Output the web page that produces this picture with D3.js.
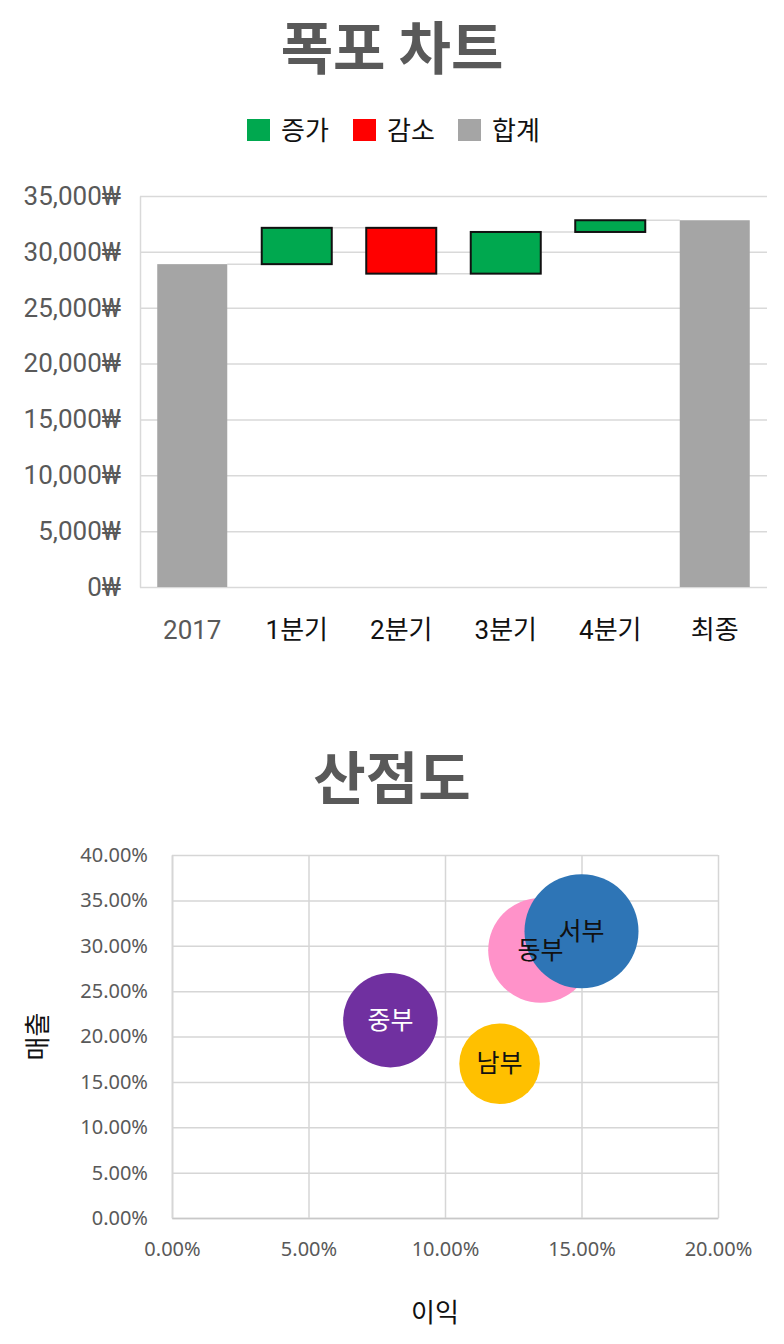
<!DOCTYPE html>
<html>
<head>
<meta charset="utf-8">
<script src="https://cdn.jsdelivr.net/npm/d3@7"></script>
<style>
    body { margin: 0; background: #fff; }
    svg { display: block; }
    .axis text { fill: #595959; }
</style>
</head>
<body>
<div id="chart"></div>
<script>
// --- waterfall data
const wfCategories = ['2017', '1분기', '2분기', '3분기', '4분기', '최종'];
const wfTypes = ['total', 'increase', 'decrease', 'increase', 'increase', 'total'];
const wfValues = [28900, 3250, -4100, 3730, 1050, 32830];
const wfTicks = [0, 5000, 10000, 15000, 20000, 25000, 30000, 35000];
const legendLabels = ['증가', '감소', '합계'];

// --- scatter data
const regions = ['중부', '남부', '동부', '서부'];
const profit = [0.08, 0.12, 0.135, 0.15];
const sales = [0.218, 0.17, 0.295, 0.316];
const bubbleSize = [22, 16, 27, 32];
const xTicks = [0, 0.05, 0.10, 0.15, 0.20];
const yTicks = [0, 0.05, 0.10, 0.15, 0.20, 0.25, 0.30, 0.35, 0.40];

const COLORS = { increase: '#00A84F', decrease: '#FF0000', total: '#A5A5A5' };
const regionColors = ['#7030A0', '#FFC000', '#FF92C9', '#2E75B6'];
const regionText = ['#ffffff', '#111111', '#111111', '#111111'];
const KR = "'Noto Sans CJK KR', 'Noto Sans', sans-serif";

const W = 784, H = 1344;
const svg = d3.select('#chart').append('svg').attr('width', W).attr('height', H);

// ================= waterfall
const wf = { left: 140, right: 767, top: 196, bottom: 587 };

svg.append('text')
    .attr('x', W / 2).attr('y', 69)
    .attr('text-anchor', 'middle')
    .attr('font-family', KR).attr('font-weight', 700).attr('font-size', 57)
    .attr('fill', '#595959')
    .text('폭포 차트');

// legend
const legendX = [247, 353, 458];
const legendKeys = ['increase', 'decrease', 'total'];
const g_legend = svg.append('g').attr('class', 'legend');
legendLabels.forEach((label, i) => {
    g_legend.append('rect')
        .attr('x', legendX[i]).attr('y', 119).attr('width', 23).attr('height', 22)
        .attr('fill', COLORS[legendKeys[i]]);
    g_legend.append('text')
        .attr('x', legendX[i] + 34).attr('y', 140)
        .attr('font-family', KR).attr('font-size', 26).attr('fill', '#111')
        .text(label);
});

const x = d3.scaleBand().domain(wfCategories).range([wf.left, wf.right])
    .paddingInner(0.33).paddingOuter(0.165);
const y = d3.scaleLinear().domain([0, 35000]).range([wf.bottom, wf.top]);

const yAxis = d3.axisLeft(y).tickValues(wfTicks).tickSizeInner(-(wf.right - wf.left))
    .tickSizeOuter(0).tickPadding(19).tickFormat(d => d3.format(',')(d) + '₩');
const g_yaxis = svg.append('g').attr('class', 'axis')
    .attr('transform', `translate(${wf.left},0)`)
    .call(yAxis);
g_yaxis.select('.domain').attr('stroke', '#d9d9d9').attr('stroke-width', 1.5);
g_yaxis.selectAll('.tick line').attr('stroke', '#d9d9d9').attr('stroke-width', 1.5);
g_yaxis.selectAll('.tick text').attr('font-family', 'Roboto, sans-serif').attr('font-size', 26);

// running totals
let running = 0;
const steps = wfValues.map((v, i) => {
    let start, end;
    if (wfTypes[i] === 'total') { start = 0; end = v; running = v; }
    else { start = running; end = running + v; running = end; }
    return { cat: wfCategories[i], type: wfTypes[i], start, end };
});

// connectors
const g_conn = svg.append('g').attr('class', 'connectors');
steps.slice(0, -1).forEach((s, i) => {
    g_conn.append('line')
        .attr('x1', x(s.cat) + x.bandwidth()).attr('x2', x(steps[i + 1].cat))
        .attr('y1', y(s.end)).attr('y2', y(s.end))
        .attr('stroke', '#d9d9d9').attr('stroke-width', 1.5);
});

svg.append('g').attr('class', 'bars').selectAll('rect')
    .data(steps).join('rect')
    .attr('x', d => x(d.cat))
    .attr('width', x.bandwidth())
    .attr('y', d => y(Math.max(d.start, d.end)))
    .attr('height', d => Math.abs(y(d.start) - y(d.end)))
    .attr('fill', d => COLORS[d.type])
    .attr('stroke', d => d.type === 'total' ? 'none' : '#111')
    .attr('stroke-width', 2);

svg.append('g').attr('class', 'x-labels').selectAll('text')
    .data(wfCategories).join('text')
    .attr('x', d => x(d) + x.bandwidth() / 2)
    .attr('y', 639)
    .attr('text-anchor', 'middle')
    .attr('font-family', "Roboto, 'Noto Sans CJK KR', sans-serif").attr('font-size', 26)
    .attr('fill', (d, i) => i === 0 ? '#595959' : '#111')
    .text(d => d);

// ================= scatter
const sc = { left: 172, right: 718, top: 855, bottom: 1218 };

svg.append('text')
    .attr('x', W / 2).attr('y', 799)
    .attr('text-anchor', 'middle')
    .attr('font-family', KR).attr('font-weight', 700).attr('font-size', 57)
    .attr('fill', '#595959')
    .text('산점도');

const sx = d3.scaleLinear().domain([0, 0.20]).range([sc.left, sc.right]);
const sy = d3.scaleLinear().domain([0, 0.40]).range([sc.bottom, sc.top]);
const r = d3.scaleSqrt().domain([0, d3.max(bubbleSize)]).range([0, 57]);
const pct = d3.format('.2%');

const g_sy = svg.append('g').attr('class', 'axis')
    .attr('transform', `translate(${sc.left},0)`)
    .call(d3.axisLeft(sy).tickValues(yTicks).tickSizeInner(-(sc.right - sc.left))
        .tickSizeOuter(0).tickPadding(24).tickFormat(pct));
const g_sx = svg.append('g').attr('class', 'axis')
    .attr('transform', `translate(0,${sc.bottom})`)
    .call(d3.axisBottom(sx).tickValues(xTicks).tickSizeInner(-(sc.bottom - sc.top))
        .tickSizeOuter(0).tickPadding(24).tickFormat(pct));
[g_sx, g_sy].forEach(g => {
    g.select('.domain').attr('stroke', '#c8c8c8').attr('stroke-width', 1.5);
    g.selectAll('.tick line').attr('stroke', '#d6d6d6').attr('stroke-width', 1.5);
    g.selectAll('.tick text').attr('font-family', "'Noto Sans', sans-serif").attr('font-size', 20);
});

const bubbles = regions.map((name, i) => ({
    name, x: profit[i], y: sales[i], size: bubbleSize[i], color: regionColors[i], text: regionText[i]
}));

svg.append('g').attr('class', 'bubbles').selectAll('circle')
    .data(bubbles).join('circle')
    .attr('cx', d => sx(d.x)).attr('cy', d => sy(d.y))
    .attr('r', d => r(d.size))
    .attr('fill', d => d.color);

svg.append('g').attr('class', 'bubble-labels').selectAll('text')
    .data(bubbles).join('text')
    .attr('x', d => sx(d.x)).attr('y', d => sy(d.y))
    .attr('dy', '0.35em')
    .attr('text-anchor', 'middle')
    .attr('font-family', KR).attr('font-size', 25)
    .attr('fill', d => d.text)
    .text(d => d.name);

svg.append('text')
    .attr('x', 435).attr('y', 1322)
    .attr('text-anchor', 'middle')
    .attr('font-family', KR).attr('font-size', 26).attr('fill', '#111')
    .text('이익');

svg.append('text')
    .attr('transform', `translate(47,${(sc.top + sc.bottom) / 2}) rotate(-90)`)
    .attr('text-anchor', 'middle')
    .attr('font-family', KR).attr('font-size', 26).attr('fill', '#111')
    .text('매출');
</script>
</body>
</html>
